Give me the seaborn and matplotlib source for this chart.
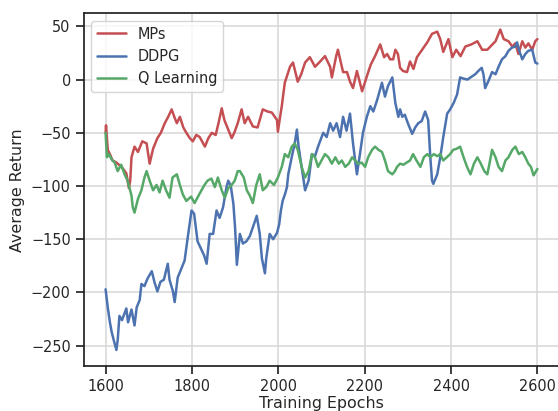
import matplotlib
matplotlib.use("Agg")
import matplotlib.pyplot as plt
import seaborn as sns

# Values (epoch, average return)
mps_epochs = [1600, 1601, 1605, 1610, 1616, 1625, 1637, 1648, 1654, 1657, 1660, 1667, 1675, 1685,
              1695, 1702, 1710, 1720, 1728, 1737, 1745, 1753, 1760, 1765, 1772, 1780, 1787, 1795,
              1802, 1810, 1818, 1830, 1838, 1846, 1855, 1862, 1869, 1875, 1881, 1892, 1898, 1906,
              1915, 1922, 1930, 1941, 1952, 1964, 1975, 1985, 1997, 1999, 2003, 2008, 2015, 2027,
              2034, 2045, 2053, 2062, 2073, 2085, 2097, 2108, 2120, 2124, 2134, 2138, 2150, 2159,
              2166, 2173, 2182, 2189, 2194, 2205, 2214, 2224, 2236, 2245, 2252, 2259, 2266, 2271,
              2277, 2282, 2289, 2298, 2305, 2313, 2321, 2333, 2345, 2356, 2368, 2375, 2382, 2394,
              2403, 2412, 2422, 2433, 2447, 2461, 2472, 2484, 2491, 2503, 2514, 2522, 2533, 2542,
              2549, 2556, 2565, 2572, 2579, 2588, 2595, 2600]
mps_return = [-50, -43, -66, -70, -76, -78, -82, -88, -102, -95, -73, -63, -68, -58,
              -60, -79, -65, -55, -50, -41, -35, -28, -36, -41, -35, -45, -50, -55,
              -58, -52, -54, -63, -55, -50, -52, -40, -27, -38, -44, -55, -50, -41,
              -28, -41, -35, -44, -45, -28, -30, -31, -38, -49, -38, -25, -3, 12,
              16, -2, 5, 16, 21, 12, 17, 22, 12, 2, 22, 28, 7, 7,
              -2, -8, 8, -3, -11, 3, 14, 22, 33, 21, 24, 19, 19, 28,
              24, 11, 8, 7, 17, 10, 21, 28, 35, 43, 45, 38, 26, 38,
              21, 28, 22, 31, 33, 36, 28, 28, 31, 36, 47, 38, 36, 31,
              34, 24, 36, 30, 34, 28, 36, 38]

ddpg_epochs = [1600, 1605, 1610, 1614, 1619, 1625, 1628, 1632, 1638, 1648, 1652, 1660, 1667, 1672,
               1679, 1683, 1690, 1697, 1707, 1713, 1720, 1727, 1735, 1744, 1748, 1756, 1760, 1767,
               1776, 1783, 1790, 1799, 1805, 1813, 1820, 1828, 1834, 1841, 1849, 1857, 1864, 1872,
               1880, 1884, 1890, 1896, 1900, 1904, 1911, 1918, 1926, 1934, 1946, 1950, 1957, 1962,
               1969, 1972, 1980, 1988, 1997, 2002, 2006, 2010, 2016, 2020, 2023, 2031, 2038, 2043,
               2047, 2054, 2062, 2070, 2078, 2085, 2092, 2104, 2112, 2120, 2127, 2135, 2143, 2150,
               2158, 2166, 2173, 2182, 2189, 2196, 2205, 2213, 2220, 2229, 2240, 2247, 2254, 2264,
               2271, 2278, 2282, 2287, 2293, 2300, 2310, 2317, 2324, 2332, 2340, 2347, 2352, 2356,
               2359, 2368, 2375, 2382, 2391, 2398, 2406, 2414, 2421, 2428, 2438, 2449, 2456, 2463,
               2471, 2475, 2479, 2487, 2495, 2503, 2510, 2518, 2526, 2533, 2541, 2549, 2553, 2557,
               2565, 2572, 2579, 2588, 2595, 2600]
ddpg_return = [-197, -214, -228, -237, -245, -254, -245, -222, -226, -215, -228, -216, -231, -214,
               -207, -192, -194, -187, -180, -190, -199, -190, -188, -173, -188, -199, -209, -186,
               -177, -170, -149, -123, -126, -152, -158, -165, -173, -145, -145, -123, -130, -120,
               -101, -95, -100, -117, -140, -174, -145, -154, -152, -147, -133, -128, -145, -168,
               -182, -168, -145, -150, -144, -136, -123, -114, -107, -101, -89, -73, -60, -47,
               -63, -82, -104, -95, -70, -72, -63, -50, -54, -41, -48, -41, -54, -35,
               -48, -32, -60, -89, -70, -50, -35, -25, -30, -19, -3, -16, -6, 2,
               -22, -35, -28, -35, -33, -41, -51, -45, -41, -39, -30, -38, -73, -95,
               -98, -89, -73, -54, -32, -28, -22, -14, 2, 1, 0, 3, 5, 8,
               11, 5, -8, -1, 7, 5, 12, 19, 22, 27, 30, 31, 35, 28,
               19, 24, 27, 28, 16, 15]

ql_epochs = [1600, 1603, 1608, 1614, 1621, 1628, 1636, 1644, 1651, 1660, 1663, 1667, 1675, 1683,
             1690, 1695, 1702, 1710, 1718, 1725, 1732, 1740, 1748, 1755, 1765, 1772, 1779, 1787,
             1798, 1806, 1814, 1822, 1829, 1836, 1845, 1853, 1860, 1869, 1876, 1884, 1892, 1899,
             1906, 1911, 1920, 1927, 1934, 1941, 1949, 1957, 1964, 1972, 1980, 1990, 1999, 2008,
             2015, 2023, 2031, 2038, 2045, 2054, 2062, 2070, 2078, 2085, 2092, 2100, 2108, 2116,
             2124, 2132, 2140, 2147, 2155, 2163, 2171, 2178, 2185, 2193, 2201, 2208, 2217, 2224,
             2232, 2240, 2247, 2254, 2264, 2270, 2275, 2282, 2290, 2297, 2305, 2312, 2320, 2329,
             2337, 2345, 2352, 2360, 2368, 2375, 2382, 2390, 2398, 2405, 2413, 2421, 2429, 2437,
             2445, 2453, 2461, 2469, 2477, 2484, 2489, 2495, 2503, 2510, 2518, 2526, 2533, 2542,
             2549, 2557, 2565, 2572, 2579, 2585, 2591, 2600]
ql_return = [-50, -73, -70, -75, -78, -86, -80, -89, -95, -109, -120, -125, -112, -104,
             -92, -86, -95, -104, -99, -106, -95, -104, -111, -92, -89, -99, -108, -114,
             -110, -116, -110, -104, -99, -95, -93, -101, -92, -104, -111, -102, -99, -95,
             -86, -86, -92, -104, -109, -116, -99, -89, -104, -101, -95, -99, -92, -82,
             -70, -73, -63, -60, -66, -82, -92, -86, -70, -73, -82, -76, -70, -73,
             -79, -73, -79, -76, -82, -79, -73, -76, -79, -78, -82, -73, -66, -63,
             -66, -68, -76, -86, -89, -86, -82, -79, -80, -78, -76, -70, -76, -82,
             -73, -70, -73, -70, -72, -70, -76, -73, -70, -66, -65, -63, -73, -82,
             -89, -79, -73, -79, -86, -89, -79, -66, -73, -82, -86, -76, -73, -66,
             -63, -70, -68, -73, -79, -82, -90, -84]

sns.set_theme(style="ticks", font_scale=0.95)
plt.rcParams["font.family"] = ["DejaVu Sans"]

fig = plt.figure(figsize=(5.58, 4.11), dpi=100)
ax = fig.add_axes([84 / 558, 45 / 411, 475 / 558, 352.5 / 411])

sns.lineplot(x=mps_epochs, y=mps_return, color="#C44E52", label="MPs", ax=ax, linewidth=1.8)
sns.lineplot(x=ddpg_epochs, y=ddpg_return, color="#4C72B0", label="DDPG", ax=ax, linewidth=1.8)
sns.lineplot(x=ql_epochs, y=ql_return, color="#55A868", label="Q Learning", ax=ax, linewidth=1.8)

ax.grid(True, color="#d6d6d6", linewidth=1.1)
ax.set_xticks([1600, 1800, 2000, 2200, 2400, 2600])
ax.set_yticks([50, 0, -50, -100, -150, -200, -250])
ax.set_xlabel("Training Epochs", labelpad=1)
ax.set_ylabel("Average Return")
for s in ax.spines.values():
    s.set_color("#222222")
ax.legend(loc="upper left")

fig.savefig("out.png", dpi=100)
